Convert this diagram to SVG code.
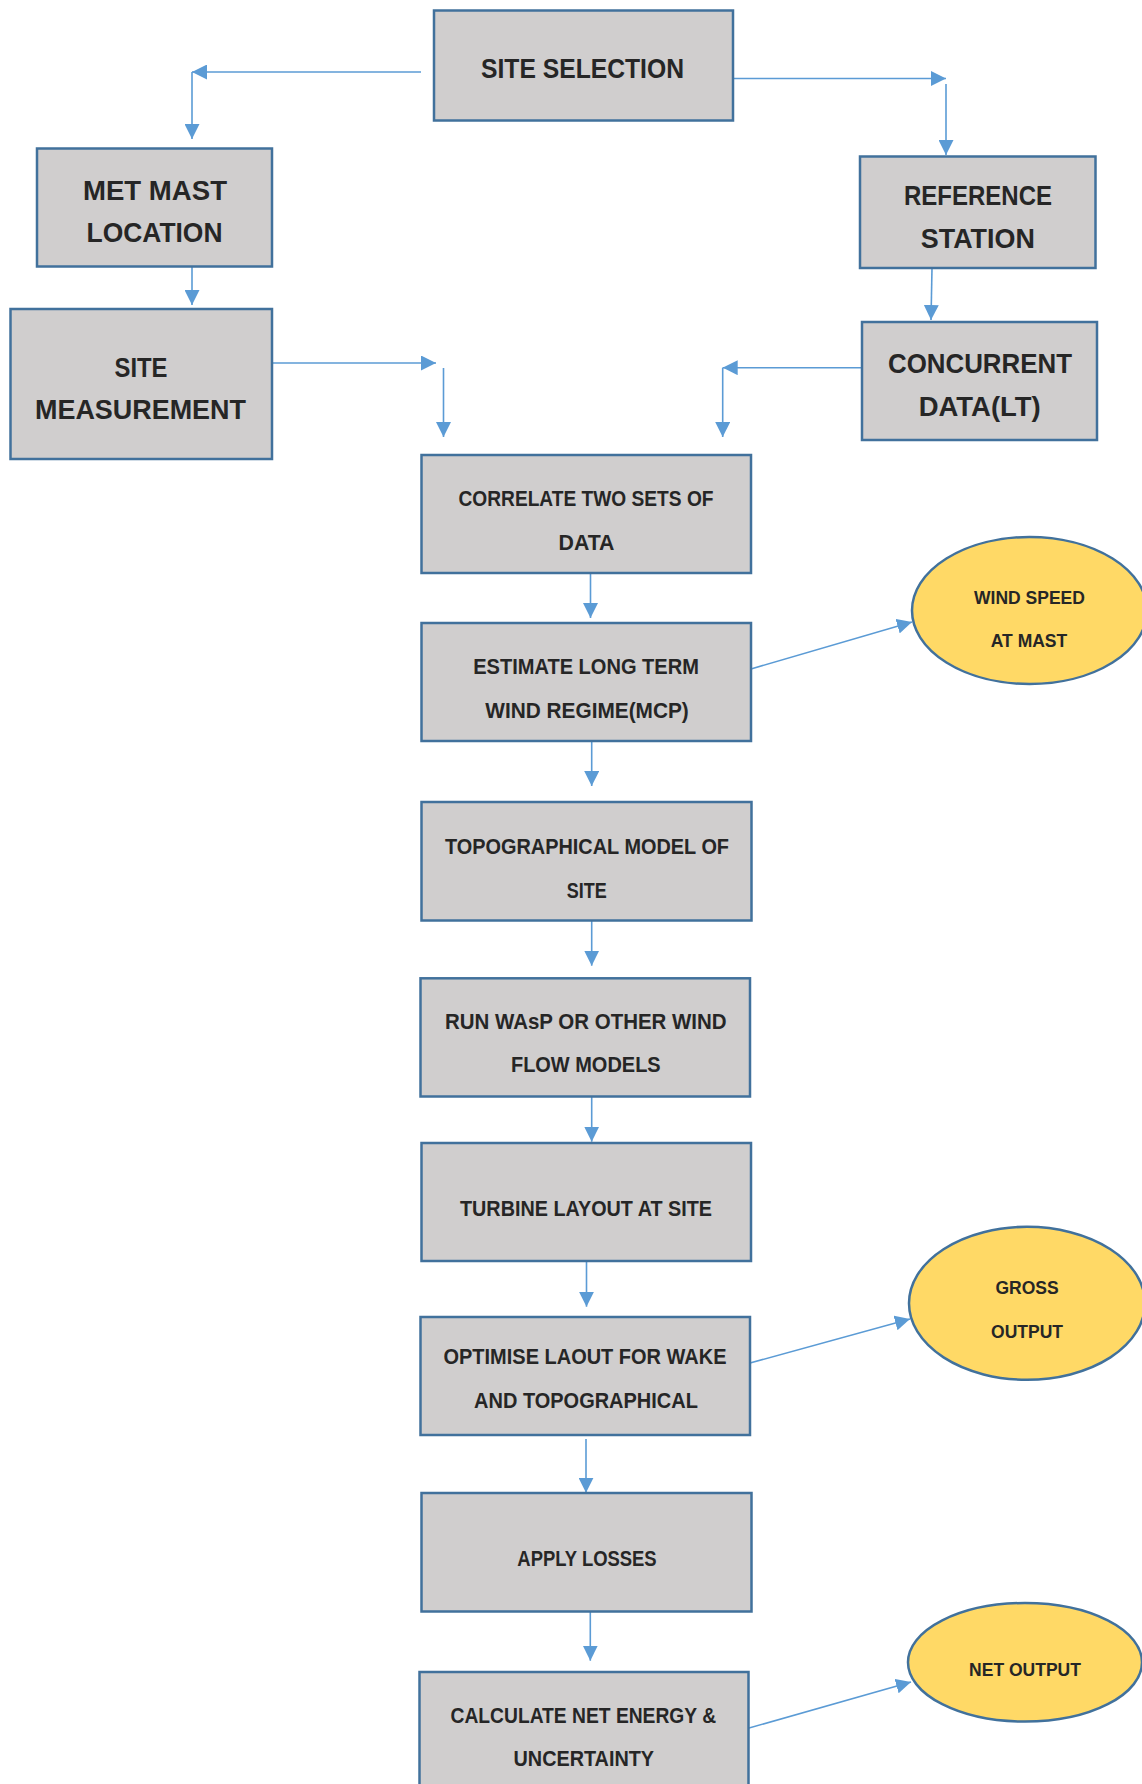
<svg xmlns="http://www.w3.org/2000/svg" width="1142" height="1784" viewBox="0 0 1142 1784">
  <defs>
    <marker id="arrow" viewBox="0 0 15 15" refX="15" refY="7.5" markerWidth="15" markerHeight="15" markerUnits="userSpaceOnUse" orient="auto">
      <path d="M0,0 L15,7.5 L0,15 z" fill="#5b9bd5"/>
    </marker>
    <style>
      .box { fill: #d0cece; stroke: #41719c; stroke-width: 2.5; }
      .oval { fill: #ffd966; stroke: #41719c; stroke-width: 2.5; }
      .conn { fill: none; stroke: #5b9bd5; stroke-width: 1.6; marker-end: url(#arrow); }
      text { font-family: "Liberation Sans", Arial, sans-serif; font-weight: bold; fill: #262626; text-anchor: middle; }
      .big { font-size: 28px; }
      .mid { font-size: 21.5px; }
      .small { font-size: 17.5px; }
    </style>
  </defs>
  <rect width="1142" height="1784" fill="#ffffff"/>

  <!-- connectors -->
  <g id="connectors">
    <path class="conn" d="M421,72 H192"/>
    <path class="conn" d="M192,72 V139"/>
    <path class="conn" d="M733,78.5 H946"/>
    <path class="conn" d="M946,84 V155"/>
    <path class="conn" d="M192,255 V305"/>
    <path class="conn" d="M272,363 H436"/>
    <path class="conn" d="M443.5,368 V437"/>
    <path class="conn" d="M932,268 L931,320"/>
    <path class="conn" d="M862,367.7 H722.7"/>
    <path class="conn" d="M722.7,367.7 V437"/>
    <path class="conn" d="M590.5,573 V618"/>
    <path class="conn" d="M751,669 L912,622"/>
    <path class="conn" d="M591.7,741 V786"/>
    <path class="conn" d="M591.7,920.5 V965.7"/>
    <path class="conn" d="M591.7,1096.5 V1141.7"/>
    <path class="conn" d="M586.5,1261 V1306.7"/>
    <path class="conn" d="M746.4,1364 L910,1319"/>
    <path class="conn" d="M586,1439 V1492.7"/>
    <path class="conn" d="M590.3,1611.5 V1660.7"/>
    <path class="conn" d="M745.5,1729 L911,1682"/>
  </g>

  <g id="site-selection">
    <rect class="box" x="434" y="10.5" width="299" height="110"/>
    <text class="big" x="582.5" y="78.3" textLength="203" lengthAdjust="spacingAndGlyphs">SITE SELECTION</text>
  </g>
  <g id="met-mast-location">
    <rect class="box" x="37" y="148.5" width="235" height="118"/>
    <text class="big" x="155" y="200" textLength="144" lengthAdjust="spacingAndGlyphs">MET MAST</text>
    <text class="big" x="154.5" y="241.7" textLength="136" lengthAdjust="spacingAndGlyphs">LOCATION</text>
  </g>
  <g id="site-measurement">
    <rect class="box" x="10.5" y="309" width="261.5" height="150"/>
    <text class="big" x="141" y="376.7" textLength="53" lengthAdjust="spacingAndGlyphs">SITE</text>
    <text class="big" x="140.5" y="419.3" textLength="211" lengthAdjust="spacingAndGlyphs">MEASUREMENT</text>
  </g>
  <g id="reference-station">
    <rect class="box" x="860" y="156.5" width="235.5" height="111.5"/>
    <text class="big" x="978" y="205" textLength="148" lengthAdjust="spacingAndGlyphs">REFERENCE</text>
    <text class="big" x="977.8" y="248" textLength="114" lengthAdjust="spacingAndGlyphs">STATION</text>
  </g>
  <g id="concurrent-data">
    <rect class="box" x="862" y="322" width="235" height="118"/>
    <text class="big" x="980" y="372.7" textLength="184" lengthAdjust="spacingAndGlyphs">CONCURRENT</text>
    <text class="big" x="979.7" y="416" textLength="122" lengthAdjust="spacingAndGlyphs">DATA(LT)</text>
  </g>
  <g id="correlate">
    <rect class="box" x="421.5" y="455" width="329.5" height="118"/>
    <text class="mid" x="586" y="505.7" textLength="255" lengthAdjust="spacingAndGlyphs">CORRELATE TWO SETS OF</text>
    <text class="mid" x="586.5" y="549.7" textLength="56" lengthAdjust="spacingAndGlyphs">DATA</text>
  </g>
  <g id="estimate-long-term">
    <rect class="box" x="421.5" y="623" width="329.5" height="118"/>
    <text class="mid" x="586" y="674.4" textLength="225.7" lengthAdjust="spacingAndGlyphs">ESTIMATE LONG TERM</text>
    <text class="mid" x="587" y="718.4" textLength="203.5" lengthAdjust="spacingAndGlyphs">WIND REGIME(MCP)</text>
  </g>
  <g id="wind-speed-at-mast">
    <ellipse class="oval" cx="1029.5" cy="610.5" rx="117.5" ry="73.5"/>
    <text class="small" x="1029.5" y="603.6">WIND SPEED</text>
    <text class="small" x="1029" y="647">AT MAST</text>
  </g>
  <g id="topographical-model">
    <rect class="box" x="421.5" y="802" width="330" height="118.5"/>
    <text class="mid" x="587" y="854.4" textLength="284" lengthAdjust="spacingAndGlyphs">TOPOGRAPHICAL MODEL OF</text>
    <text class="mid" x="586.7" y="898.4" textLength="40" lengthAdjust="spacingAndGlyphs">SITE</text>
  </g>
  <g id="run-wasp">
    <rect class="box" x="420.5" y="978.3" width="329.5" height="118.2"/>
    <text class="mid" x="585.8" y="1029.4" textLength="281.7" lengthAdjust="spacingAndGlyphs">RUN WAsP OR OTHER WIND</text>
    <text class="mid" x="585.8" y="1072" textLength="149.7" lengthAdjust="spacingAndGlyphs">FLOW MODELS</text>
  </g>
  <g id="turbine-layout">
    <rect class="box" x="421.5" y="1143" width="329.5" height="118"/>
    <text class="mid" x="586" y="1215.7" textLength="252" lengthAdjust="spacingAndGlyphs">TURBINE LAYOUT AT SITE</text>
  </g>
  <g id="optimise-layout">
    <rect class="box" x="420.5" y="1317" width="329.5" height="118"/>
    <text class="mid" x="585" y="1364.4" textLength="283" lengthAdjust="spacingAndGlyphs">OPTIMISE LAOUT FOR WAKE</text>
    <text class="mid" x="586" y="1407.7" textLength="223.8" lengthAdjust="spacingAndGlyphs">AND TOPOGRAPHICAL</text>
  </g>
  <g id="gross-output">
    <ellipse class="oval" cx="1027" cy="1303.3" rx="118" ry="76.5"/>
    <text class="small" x="1027" y="1294.3">GROSS</text>
    <text class="small" x="1027" y="1338">OUTPUT</text>
  </g>
  <g id="apply-losses">
    <rect class="box" x="421.5" y="1493" width="330" height="118.5"/>
    <text class="mid" x="587" y="1565.7" textLength="139.3" lengthAdjust="spacingAndGlyphs">APPLY LOSSES</text>
  </g>
  <g id="calculate-net-energy">
    <rect class="box" x="419.5" y="1672" width="329" height="130"/>
    <text class="mid" x="583.3" y="1722.7" textLength="265.5" lengthAdjust="spacingAndGlyphs">CALCULATE NET ENERGY &amp;</text>
    <text class="mid" x="583.8" y="1765.7" textLength="140.5" lengthAdjust="spacingAndGlyphs">UNCERTAINTY</text>
  </g>
  <g id="net-output">
    <ellipse class="oval" cx="1025" cy="1662.3" rx="117" ry="59.3"/>
    <text class="small" x="1025" y="1676.3">NET OUTPUT</text>
  </g>
</svg>
